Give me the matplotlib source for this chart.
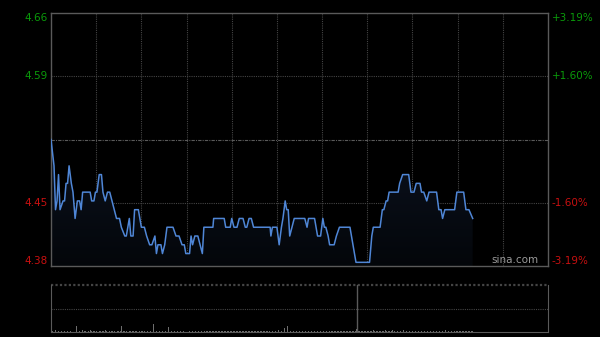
import matplotlib
matplotlib.use("Agg")
import matplotlib.pyplot as plt
import numpy as np

# previous close and the +/- range shown on the price axis
prev_close = 4.52
pct_range = 3.19
pct_grid = 1.60

# intraday price, vertices (minutes since open, price)
minutes = [0, 2, 3, 4, 5, 6, 8, 9, 10, 11, 12, 13.5, 14.6, 16, 17.5, 19, 20, 21, 23, 26,
           27, 28.5, 29.5, 30.5, 32, 33.5, 34.5, 36, 37.5, 39, 40.5, 42, 43.5, 45.5, 46.7, 49, 50, 52, 53, 54.5,
           55.5, 58, 60, 62, 63.5, 65.5, 67, 69, 70, 71, 73, 74, 75.5, 77, 81, 83, 85, 87, 88.5, 89.5,
           92, 93, 94, 95.5, 97.5, 99, 100.5, 101.5, 103, 107.5, 108, 115, 116, 119, 120, 121.5, 123.5, 125, 127.5, 129,
           130, 131.5, 133, 134.5, 145.5, 146, 147, 150, 151.5, 153, 154, 155.5, 156.5, 157.5, 158.5, 160, 161.5, 168.5, 170, 171,
           175, 177, 179, 180.5, 181.5, 182.5, 184, 185, 188, 189.5, 191.5, 198.5, 199.5, 200.5, 202.5, 211.5, 213, 214, 218.5, 220,
           221, 222.5, 223.5, 224.5, 230.5, 231.5, 233.5, 237.5, 239, 241, 242.5, 245, 246, 247.5, 249.5, 251, 256, 257.5, 259, 260,
           261.5, 268, 269.5, 274, 275.5, 277.5, 280]
prices = [4.52, 4.49, 4.44, 4.45, 4.48, 4.44, 4.45, 4.45, 4.47, 4.47, 4.49, 4.47, 4.46, 4.43, 4.45, 4.45, 4.44, 4.46, 4.46, 4.46,
          4.45, 4.45, 4.46, 4.46, 4.48, 4.48, 4.46, 4.45, 4.46, 4.46, 4.45, 4.44, 4.43, 4.43, 4.42, 4.41, 4.41, 4.43, 4.41, 4.41,
          4.44, 4.44, 4.42, 4.42, 4.41, 4.40, 4.40, 4.41, 4.39, 4.40, 4.40, 4.39, 4.40, 4.42, 4.42, 4.41, 4.41, 4.40, 4.40, 4.39,
          4.39, 4.41, 4.40, 4.41, 4.41, 4.40, 4.39, 4.42, 4.42, 4.42, 4.43, 4.43, 4.42, 4.42, 4.43, 4.42, 4.42, 4.43, 4.43, 4.42,
          4.42, 4.43, 4.43, 4.42, 4.42, 4.41, 4.42, 4.42, 4.40, 4.42, 4.43, 4.45, 4.44, 4.44, 4.41, 4.42, 4.43, 4.43, 4.42, 4.43,
          4.43, 4.41, 4.41, 4.43, 4.42, 4.42, 4.41, 4.40, 4.40, 4.41, 4.42, 4.42, 4.41, 4.40, 4.38, 4.38, 4.41, 4.42, 4.42, 4.44,
          4.44, 4.45, 4.45, 4.46, 4.46, 4.47, 4.48, 4.48, 4.46, 4.46, 4.47, 4.47, 4.46, 4.46, 4.45, 4.46, 4.46, 4.44, 4.44, 4.43,
          4.44, 4.44, 4.46, 4.46, 4.44, 4.44, 4.43]

# per-minute volume (rough, in pixel-ish units of the small panel)
volume = [2, 1.5, 1, 2, 1, 1, 0.5, 1, 1.5, 1, 2, 1, 1, 1.5, 1, 0.5, 1.5, 6, 1, 1,
          1.5, 2, 1, 1, 0.5, 1, 2, 1.5, 1, 1, 1, 0.5, 1, 1.5, 1, 1, 2, 1, 0.5, 1,
          1, 1.5, 1, 0.5, 1, 1, 1, 6, 1, 1.5, 1, 0.5, 1, 1, 1, 1.5, 1, 1, 0.5, 1,
          1, 1.5, 1, 1, 1, 4, 1, 1, 8, 2, 1.5, 1, 1, 0.5, 1, 1, 1, 1, 5, 1.5,
          1, 1, 1.5, 1, 1, 1, 1, 1.5, 1, 1, 0.5, 1, 1, 1, 1.5, 1, 1, 1, 1, 1.5,
          1, 2, 1, 1, 1, 1.5, 1, 1, 1, 1, 1.5, 1, 1, 1, 1, 1, 1.5, 1, 1, 1,
          1.5, 1, 1, 1, 1, 1, 1.5, 1, 1, 1, 1, 1, 1.5, 1, 1, 1, 1, 1, 1.5, 1,
          1, 1, 1, 1.5, 1, 1, 1.5, 1, 1, 1, 1, 2, 1, 1.5, 1, 4, 1, 6, 2, 1.5,
          1, 1, 1.5, 1, 1, 1, 1, 1, 1.5, 1, 1, 1, 1, 1, 1.5, 1, 1, 1, 1, 1,
          1.5, 1, 1, 1, 1, 1, 1, 1.5, 1, 1, 1, 1, 1, 1.5, 1, 1, 1, 1, 1, 1.5,
          1, 1, 1.5, 3, 1, 1, 1, 1, 1, 1, 1, 1.5, 1, 1, 2, 1, 1, 1, 1, 1.5,
          1, 1.5, 2, 1, 1.5, 1, 1, 2, 1, 1, 1.5, 1, 1, 1, 2, 1, 1, 1.5, 1, 1,
          1, 1.5, 1, 1, 1, 1, 1.5, 1, 1, 1, 1, 1, 1.5, 1, 1, 1, 1, 1, 1, 1.5,
          1, 1, 2.5, 1, 1, 1, 1.5, 1, 1, 1, 1, 1, 1, 1.5, 1, 1, 1, 1, 1, 1,
          1]
day_break = 203  # solid separator in the volume panel

session_len = 330
grid_step = 30

lo = prev_close * (1 - pct_range / 100)
hi = prev_close * (1 + pct_range / 100)
g_up = prev_close * (1 + pct_grid / 100)
g_dn = prev_close * (1 - pct_grid / 100)

green = "#0a9a0a"
red = "#c81010"
frame = "#5a5a5a"
grid_c = "#444444"

fig = plt.figure(figsize=(6, 3.37), dpi=100, facecolor="black")

# ---- price panel
ax = fig.add_axes([51 / 600, 71 / 337, 497 / 600, 253 / 337], facecolor="black")
ax.set_xlim(0, session_len)
ax.set_ylim(lo, hi)

for t in range(grid_step, session_len, grid_step):
    ax.axvline(t, color=grid_c, lw=0.8, ls=(0, (1, 1)), zorder=1)
for p in (g_up, g_dn):
    ax.axhline(p, color=grid_c, lw=0.8, ls=(0, (1, 1)), zorder=1)
ax.axhline(prev_close, color="#5a5a5a", lw=0.8, ls=(0, (3, 1, 1, 1)), zorder=1)

# gradient fill under the price line
poly = ax.fill_between(minutes, prices, lo, color="none", lw=0)
grad = np.linspace(1, 0, 100).reshape(-1, 1)
cols = np.zeros((100, 1, 4))
cols[..., 0] = 0.015 + 0.03 * grad
cols[..., 1] = 0.025 + 0.045 * grad
cols[..., 2] = 0.04 + 0.08 * grad
cols[..., 3] = 1
img = ax.imshow(cols, extent=[0, max(minutes), lo, max(prices)], aspect="auto",
                origin="upper", zorder=2)
img.set_clip_path(poly.get_paths()[0], transform=ax.transData)
ax.set_xlim(0, session_len)
ax.set_ylim(lo, hi)

ax.plot(minutes, prices, color="#4f86d6", lw=1.1, zorder=3)

for s in ax.spines.values():
    s.set_color(frame)
    s.set_linewidth(1)
ax.set_xticks([])
ax.set_yticks([])

# axis labels, drawn as text so the edge ones sit inside the frame
lx = ax.get_yaxis_transform()
ax.text(-0.006, hi, f"{hi:.2f}", transform=lx, ha="right", va="top", color=green, fontsize=7.5)
ax.text(-0.006, g_up, f"{g_up:.2f}", transform=lx, ha="right", va="center", color=green, fontsize=7.5)
ax.text(-0.006, g_dn, f"{g_dn:.2f}", transform=lx, ha="right", va="center", color=red, fontsize=7.5)
ax.text(-0.006, lo, f"{lo:.2f}", transform=lx, ha="right", va="bottom", color=red, fontsize=7.5)
ax.text(1.008, hi, f"+{pct_range:.2f}%", transform=lx, ha="left", va="top", color=green, fontsize=7.5)
ax.text(1.008, g_up, f"+{pct_grid:.2f}%", transform=lx, ha="left", va="center", color=green, fontsize=7.5)
ax.text(1.008, g_dn, f"-{pct_grid:.2f}%", transform=lx, ha="left", va="center", color=red, fontsize=7.5)
ax.text(1.008, lo, f"-{pct_range:.2f}%", transform=lx, ha="left", va="bottom", color=red, fontsize=7.5)
ax.text(0.98, 0.005, "sina.com", transform=ax.transAxes, ha="right", va="bottom",
        color="#9a9a9a", fontsize=7.5)

# ---- volume panel
vx = fig.add_axes([51 / 600, 5 / 337, 497 / 600, 47 / 337], facecolor="black")
vx.set_xlim(0, session_len)
vx.set_ylim(0, 47)
vx.bar(np.arange(len(volume)), volume, width=0.5, color="#6e6e6e", lw=0, zorder=2)
vx.axhline(47 / 2, color=grid_c, lw=0.8, ls=(0, (1, 1)))
vx.axhline(47, color=grid_c, lw=1.6, ls=(0, (1, 1)), clip_on=False)
vx.axvline(day_break, color=frame, lw=1)
for side in ("left", "right", "bottom"):
    vx.spines[side].set_color(frame)
vx.spines["top"].set_visible(False)
vx.set_xticks([])
vx.set_yticks([])

fig.savefig("out.png", dpi=100, facecolor="black")
